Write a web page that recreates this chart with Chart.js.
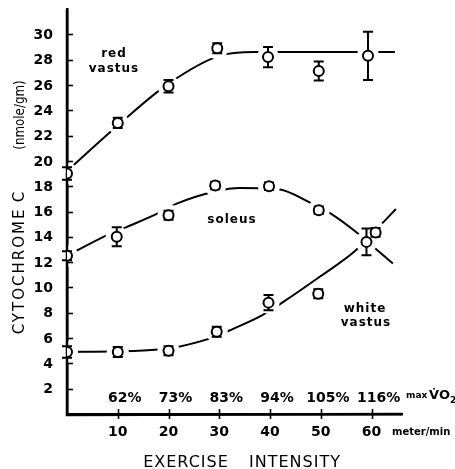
<!DOCTYPE html>
<html><head><meta charset="utf-8">
<script src="https://cdn.jsdelivr.net/npm/chart.js@4/dist/chart.umd.min.js"></script>
<style>html,body{margin:0;padding:0;background:#fff;overflow:hidden}canvas{display:block}</style>
</head><body>
<canvas id="c" width="455" height="469"></canvas>
<script>
// ---- measured points (x = meter/min, y = nmole/gm) ----
const redX   = [0, 10, 20, 29.6, 39.6, 49.6, 59.3];
const redY   = [19.0, 23.0, 25.9, 28.9, 28.2, 27.1, 28.3];
const redErr = [0.5, 0.4, 0.5, 0.4, 0.8, 0.75, 1.9];

const solX   = [0, 9.8, 20, 29.2, 39.8, 49.6, 60.8];
const solY   = [12.5, 14.0, 15.7, 18.05, 18.0, 16.1, 14.35];
const solErr = [0.35, 0.75, 0.35, 0.3, 0.3, 0.3, 0.35];

const whiX   = [0, 10, 20, 29.5, 39.7, 49.5, 59.0];
const whiY   = [4.9, 4.9, 5.0, 6.5, 8.8, 9.5, 13.6];
const whiErr = [0.45, 0.4, 0.35, 0.4, 0.6, 0.35, 1.05];

// ---- hand-drawn fitted curves ----
const redCurveX = [0, 10, 20, 30, 37, 64.6];
const redCurveY = [19.2, 22.8, 26.1, 28.3, 28.6, 28.6];
const solCurveX = [0, 7.7, 11.6, 17.9, 21.5, 29.4, 34, 41.6, 47.9, 51.9, 57.2, 60.4, 64.2];
const solCurveY = [12.5, 14.1, 14.75, 15.85, 16.6, 17.6, 17.85, 17.75, 16.7, 15.85, 14.3, 13.2, 11.9];
const whiCurveX = [0, 10, 18, 21.8, 29.5, 32, 38.4, 42.4, 50, 56.8, 62.2, 64.8];
const whiCurveY = [4.9, 4.95, 5.1, 5.3, 6.15, 6.6, 7.8, 8.8, 10.9, 12.9, 15.1, 16.2];

// ---- axes ----
const xTickVals = [10, 20, 30, 40, 50, 60];
const yTickVals = [2, 4, 6, 8, 10, 12, 14, 16, 18, 20, 22, 24, 26, 28, 30];
const pctLabels = ['62%', '73%', '83%', '94%', '105%', '116%'];

const FAM = '"DejaVu Sans", "Liberation Sans", sans-serif';
const zip = (xs, ys) => xs.map((x, i) => ({x, y: ys[i]}));

const pointSeries = [
  {x: redX, y: redY, e: redErr},
  {x: solX, y: solY, e: solErr},
  {x: whiX, y: whiY, e: whiErr}
];

function curveDs(xs, ys) {
  return {data: zip(xs, ys), showLine: true, pointRadius: 0, borderColor: '#000',
          borderWidth: 2, cubicInterpolationMode: 'monotone', order: 2, fill: false};
}
function pointDs(xs, ys) {
  return {data: zip(xs, ys), showLine: false, pointRadius: 5, pointBorderWidth: 2,
          pointBorderColor: '#000', pointBackgroundColor: '#fff', pointStyle: 'circle', order: 1,
          isPoints: true};
}

let prepDone = false;
const decor = {
  id: 'decor',
  beforeDatasetsDraw() { prepDone = false; },
  beforeDatasetDraw(chart, args) {
    if (prepDone || !chart.data.datasets[args.index].isPoints) return;
    prepDone = true;
    const ctx = chart.ctx, xs = chart.scales.x, ys = chart.scales.y, ca = chart.chartArea;
    ctx.save();
    // white gaps in the curves around every marker
    ctx.fillStyle = '#fff';
    pointSeries.forEach(s => s.x.forEach((xv, i) => {
      ctx.beginPath();
      ctx.arc(xs.getPixelForValue(xv), ys.getPixelForValue(s.y[i]), 11, 0, Math.PI * 2);
      ctx.fill();
    }));
    // axis lines (redrawn over the gaps)
    ctx.strokeStyle = '#000';
    ctx.lineWidth = 2.5;
    ctx.beginPath();
    ctx.moveTo(ca.left, ca.top); ctx.lineTo(ca.left, ca.bottom + 1);
    ctx.lineTo(ca.right, ca.bottom);
    ctx.stroke();
    // tick marks
    ctx.lineWidth = 1.6;
    yTickVals.forEach(v => {
      const py = Math.round(ys.getPixelForValue(v)) + 0.5;
      ctx.beginPath(); ctx.moveTo(ca.left, py); ctx.lineTo(ca.left + 6, py); ctx.stroke();
    });
    xTickVals.forEach(v => {
      const px = Math.round(xs.getPixelForValue(v)) + 0.5;
      ctx.beginPath(); ctx.moveTo(px, ca.bottom - 5); ctx.lineTo(px, ca.bottom + 5); ctx.stroke();
    });
    // error bars
    ctx.lineWidth = 2;
    pointSeries.forEach(s => s.x.forEach((xv, i) => {
      const px = xs.getPixelForValue(xv);
      const top = ys.getPixelForValue(s.y[i] + s.e[i]);
      const bot = ys.getPixelForValue(s.y[i] - s.e[i]);
      ctx.beginPath();
      ctx.moveTo(px, top); ctx.lineTo(px, bot);
      ctx.moveTo(px - 5, top); ctx.lineTo(px + 5, top);
      ctx.moveTo(px - 5, bot); ctx.lineTo(px + 5, bot);
      ctx.stroke();
    }));
    ctx.restore();
  },
  afterDraw(chart) {
    const ctx = chart.ctx, xs = chart.scales.x;
    ctx.save();
    ctx.fillStyle = '#000';
    ctx.textBaseline = 'alphabetic';
    // percent of max VO2 row
    ctx.font = 'bold 14px ' + FAM;
    ctx.textAlign = 'left';
    pctLabels.forEach((t, i) => {
      const num = t.replace('%', '');
      const w = ctx.measureText(num).width;
      ctx.fillText(t, xs.getPixelForValue(xTickVals[i]) - w / 2, 402);
    });
    ctx.font = 'bold 9px ' + FAM;
    ctx.fillText('max', 406, 398);
    ctx.font = 'bold 13px ' + FAM;
    ctx.fillText('V\u0307O', 429, 399);
    ctx.font = 'bold 9px ' + FAM;
    ctx.fillText('2', 450, 403);
    ctx.font = 'bold 10px ' + FAM;
    ctx.fillText('meter/min', 392, 435);
    // x title
    ctx.font = '16px ' + FAM;
    ctx.letterSpacing = '1px';
    ctx.textAlign = 'center';
    ctx.fillText('EXERCISE', 186, 467);
    ctx.fillText('INTENSITY', 295, 467);
    // y title
    ctx.save();
    ctx.translate(24, 0);
    ctx.rotate(-Math.PI / 2);
    ctx.font = '15px ' + FAM;
    ctx.letterSpacing = '2px';
    ctx.fillText('CYTOCHROME', -271, 0);
    ctx.letterSpacing = '0px';
    ctx.fillText('C', -197, 0);
    ctx.save();
    ctx.translate(-115, 0);
    ctx.scale(0.85, 1);
    ctx.font = '14px ' + FAM;
    ctx.fillText('(nmole/gm)', 0, 0);
    ctx.restore();
    ctx.restore();
    // series labels
    ctx.font = 'bold 12px ' + FAM;
    ctx.letterSpacing = '1px';
    ctx.fillText('red', 114, 57);
    ctx.fillText('vastus', 114, 72);
    ctx.fillText('soleus', 232, 223);
    ctx.fillText('white', 365, 312);
    ctx.fillText('vastus', 366, 326);
    ctx.restore();
  }
};

new Chart(document.getElementById('c'), {
  type: 'scatter',
  data: {
    datasets: [
      pointDs(redX, redY), pointDs(solX, solY), pointDs(whiX, whiY),
      curveDs(redCurveX, redCurveY), curveDs(solCurveX, solCurveY), curveDs(whiCurveX, whiCurveY)
    ]
  },
  options: {
    responsive: false, animation: false, devicePixelRatio: 1,
    layout: {padding: {top: 9, right: 53, left: 0, bottom: 0}},
    plugins: {legend: {display: false}, tooltip: {enabled: false}},
    scales: {
      x: {
        type: 'linear', min: 0, max: 66,
        afterBuildTicks: s => { s.ticks = xTickVals.map(v => ({value: v})); },
        afterFit: s => { s.height = 55; s.paddingLeft = 0; s.paddingRight = 0; },
        grid: {display: false, drawTicks: false},
        border: {display: true, color: '#000', width: 2.5},
        ticks: {color: '#000', padding: 10, maxRotation: 0, autoSkip: false,
                font: {family: FAM, size: 14, weight: 'bold'}}
      },
      y: {
        type: 'linear', min: 0, max: 32,
        afterBuildTicks: s => { s.ticks = yTickVals.map(v => ({value: v})); },
        afterFit: s => { s.width = 67; s.paddingTop = 0; s.paddingBottom = 0; },
        grid: {display: false, drawTicks: false},
        border: {display: true, color: '#000', width: 2.5},
        ticks: {color: '#000', padding: 14, autoSkip: false, labelOffset: 1,
                font: {family: FAM, size: 14, weight: 'bold'}}
      }
    }
  },
  plugins: [decor]
});
</script>
</body></html>
